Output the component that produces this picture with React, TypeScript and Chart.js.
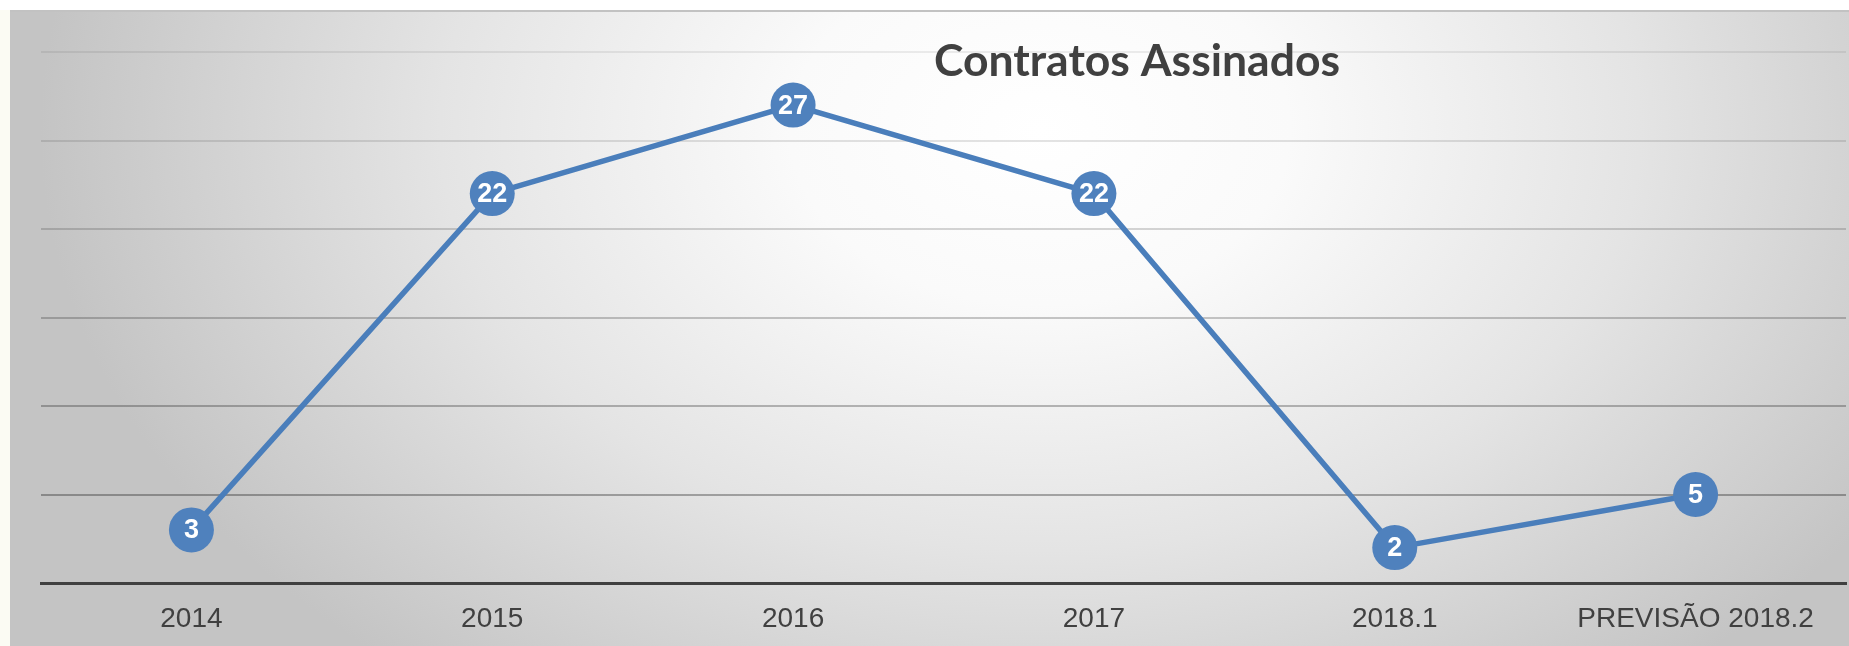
import React, { useEffect, useRef } from "react";
import { Chart, registerables } from "chart.js";

Chart.register(...registerables);

const categories = ["2014", "2015", "2016", "2017", "2018.1", "PREVISÃO 2018.2"];
const contratos = [3, 22, 27, 22, 2, 5];
const titleText = "Contratos Assinados";
const yMin = 0;
const yMax = 30;
const yStep = 5;

const W = 1849;
const H = 646;

const gridAlpha: Record<number, number> = { 5: 0.3, 10: 0.26, 15: 0.21, 20: 0.16, 25: 0.11, 30: 0.07 };

const backgroundPlugin = {
  id: "bgPlugin",
  beforeDraw(chart: any) {
    const ctx = chart.ctx as CanvasRenderingContext2D;
    const w = chart.width;
    const h = chart.height;
    ctx.save();
    ctx.fillStyle = "#ffffff";
    ctx.fillRect(0, 0, w, h);
    ctx.fillStyle = "#fbfbf3";
    ctx.fillRect(0, 10, 10, h - 10);
    ctx.beginPath();
    ctx.rect(10, 10, w - 10, h - 10);
    ctx.clip();
    const cx = 1040, cy = 130, rx = 1000, ry = 700;
    ctx.translate(cx, cy);
    ctx.scale(1, ry / rx);
    const g = ctx.createRadialGradient(0, 0, 0, 0, 0, rx);
    g.addColorStop(0, "#ffffff");
    g.addColorStop(0.25, "#fafafa");
    g.addColorStop(0.6, "#e4e4e4");
    g.addColorStop(1, "#c4c4c4");
    ctx.fillStyle = g;
    ctx.fillRect(-3000, -3000, 6000, 6000);
    ctx.restore();
    ctx.save();
    ctx.strokeStyle = "#c2c2c2";
    ctx.lineWidth = 2;
    ctx.beginPath();
    ctx.moveTo(10, 11);
    ctx.lineTo(w, 11);
    ctx.stroke();
    ctx.restore();
  },
};

const labelsPlugin = {
  id: "pointLabels",
  afterDatasetsDraw(chart: any) {
    const ctx = chart.ctx as CanvasRenderingContext2D;
    ctx.save();
    ctx.fillStyle = "#ffffff";
    ctx.font = "bold 27px 'Liberation Sans', Arial, sans-serif";
    ctx.textAlign = "center";
    ctx.textBaseline = "middle";
    chart.data.datasets.forEach((ds: any, i: number) => {
      const meta = chart.getDatasetMeta(i);
      meta.data.forEach((pt: any, j: number) => {
        ctx.fillText(String(ds.data[j]), pt.x, pt.y + 1);
      });
    });
    ctx.restore();
  },
  afterDraw(chart: any) {
    const ctx = chart.ctx as CanvasRenderingContext2D;
    const area = chart.chartArea;
    ctx.save();
    ctx.fillStyle = "#404040";
    ctx.font = "bold 44.5px Lato, 'Open Sans', sans-serif";
    ctx.textAlign = "center";
    ctx.textBaseline = "alphabetic";
    const x = area.left + (1137 - 41) / 1805 * (area.right - area.left);
    ctx.fillText(titleText, x, 76);
    ctx.restore();
  },
};

export default function App() {
  const ref = useRef<HTMLCanvasElement | null>(null);
  useEffect(() => {
    document.body.style.margin = "0";
    const canvas = ref.current!;
    const chart = new Chart(canvas, {
      type: "line",
      data: {
        labels: categories,
        datasets: [
          {
            label: titleText,
            data: contratos,
            borderColor: "#4a7ebb",
            borderWidth: 5.5,
            backgroundColor: "#4f81bd",
            pointBackgroundColor: "#4f81bd",
            pointBorderColor: "#4f81bd",
            pointBorderWidth: 0,
            pointRadius: 22.5,
            pointHoverRadius: 22.5,
            tension: 0,
            fill: false,
          },
        ],
      },
      options: {
        responsive: false,
        animation: false,
        devicePixelRatio: 1,
        layout: { autoPadding: false, padding: { left: 41, right: 3, top: 52, bottom: 0 } },
        plugins: {
          legend: { display: false },
          title: { display: false },
          tooltip: { enabled: false },
        },
        scales: {
          x: {
            type: "category",
            offset: true,
            grid: { display: false, drawTicks: false },
            border: { display: true, color: "#404040", width: 3 },
            ticks: {
              color: "#404040",
              font: { family: "'Liberation Sans', Arial, sans-serif", size: 28 },
              padding: 19,
              maxRotation: 0,
              autoSkip: false,
            },
            afterFit: (scale: any) => {
              scale.height = 63;
            },
          },
          y: {
            min: yMin,
            max: yMax,
            ticks: { display: false, stepSize: yStep },
            border: { display: false },
            grid: {
              drawTicks: false,
              lineWidth: 2,
              color: (c: any) => {
                const v = c.tick ? c.tick.value : 0;
                const a = gridAlpha[v];
                return a ? `rgba(0,0,0,${a})` : "rgba(0,0,0,0)";
              },
            },
          },
        },
      },
      plugins: [backgroundPlugin, labelsPlugin],
    });
    return () => chart.destroy();
  }, []);
  return <canvas ref={ref} width={W} height={H} style={{ display: "block", width: W, height: H }} />;
}
